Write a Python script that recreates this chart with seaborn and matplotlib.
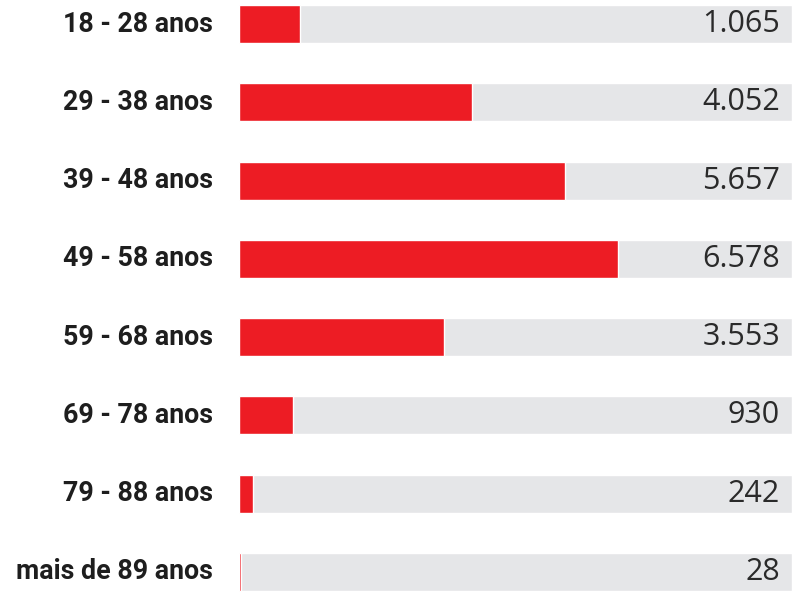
import matplotlib
matplotlib.use("Agg")
import matplotlib.pyplot as plt
import seaborn as sns
import pandas as pd
from matplotlib import font_manager

categories = ["18 - 28 anos", "29 - 38 anos", "39 - 48 anos", "49 - 58 anos",
              "59 - 68 anos", "69 - 78 anos", "79 - 88 anos", "mais de 89 anos"]
values = [1065, 4052, 5657, 6578, 3553, 930, 242, 28]
value_labels = ["1.065", "4.052", "5.657", "6.578", "3.553", "930", "242", "28"]
scale_max = 9600

sns.set_theme(style="white")
names = {f.name for f in font_manager.fontManager.ttflist}
label_font = "Liberation Sans Narrow" if "Liberation Sans Narrow" in names else "Roboto"

df = pd.DataFrame({"cat": categories, "val": values,
                   "bg": [scale_max] * len(categories)})

fig = plt.figure(figsize=(7.92, 5.92), dpi=100)
ax = fig.add_axes([239 / 792, 0, 553 / 792, 1])
sns.barplot(data=df, x="bg", y="cat", orient="h", color="#E5E6E8",
            width=0.487, ax=ax, saturation=1)
sns.barplot(data=df, x="val", y="cat", orient="h", color="#ED1C24",
            width=0.487, ax=ax, saturation=1)
ax.set_xlim(0, scale_max)
ax.set_ylim(7.256, -0.3077)
ax.set_axis_off()

for i, (cat, lab) in enumerate(zip(categories, value_labels)):
    ax.text(scale_max * (1 - 12 / 553), i, lab, ha="right", va="center",
            fontsize=22, color="#2a2a2a", family=["Open Sans", "DejaVu Sans"])
    ax.annotate(cat, xy=(0, i), xytext=(-26, 0), textcoords="offset pixels",
                ha="right", va="center", fontsize=19.3, fontweight="bold",
                color="#1e1e1e", family=[label_font, "DejaVu Sans"])

fig.savefig("out.png", dpi=100)
